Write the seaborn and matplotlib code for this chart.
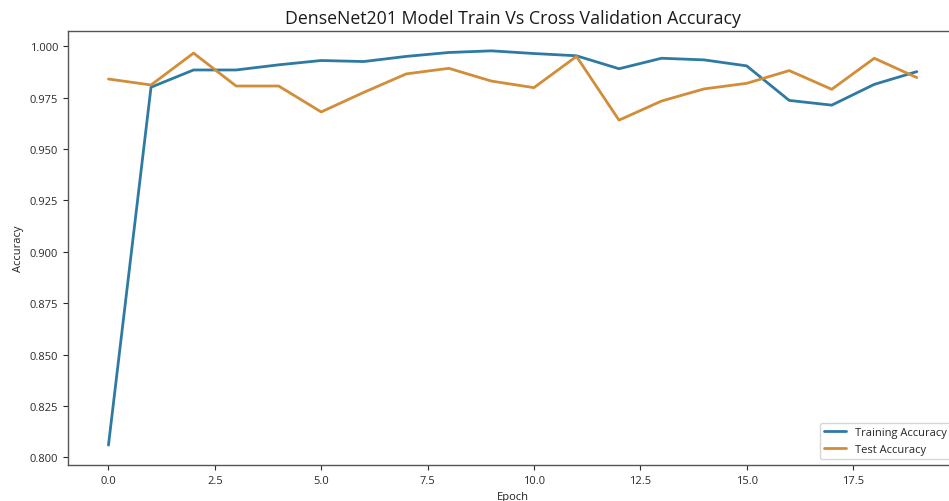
import numpy as np
import pandas as pd
import matplotlib
matplotlib.use('Agg')
import matplotlib.pyplot as plt
import seaborn as sns

# values
epochs = list(range(20))
train_acc = [0.806, 0.980, 0.9884, 0.9884, 0.9909, 0.9930, 0.9925, 0.9950, 0.9969, 0.9977,
             0.9964, 0.9953, 0.9890, 0.9941, 0.9933, 0.9904, 0.9736, 0.9713, 0.9814, 0.9876]
test_acc = [0.9840, 0.9811, 0.9966, 0.9806, 0.9806, 0.9680, 0.9775, 0.9865, 0.9892, 0.9830,
            0.9798, 0.9950, 0.9640, 0.9733, 0.9792, 0.9819, 0.9881, 0.9790, 0.9941, 0.9847]

df = pd.DataFrame({
    'Epoch': epochs * 2,
    'Accuracy': train_acc + test_acc,
    'Series': ['Training Accuracy'] * len(epochs) + ['Test Accuracy'] * len(epochs),
})

sns.set_style('white')
plt.rcParams['font.family'] = ['Open Sans', 'DejaVu Sans']

blue = '#2f7aa3'
orange = '#d18d38'

fig = plt.figure(figsize=(9.49, 5.02), dpi=100, facecolor='white')
# axes runs past the right edge like the cropped original
ax = fig.add_axes([0.0717, 0.072, 0.937, 0.864])

sns.lineplot(data=df, x='Epoch', y='Accuracy', hue='Series',
             palette={'Training Accuracy': blue, 'Test Accuracy': orange},
             linewidth=2, ax=ax)

ax.set_title('DenseNet201 Model Train Vs Cross Validation Accuracy', fontsize=12.8, color='#1a1a1a')
ax.set_xlabel('Epoch', fontsize=8, color='#222222')
ax.set_ylabel('Accuracy', fontsize=8, color='#222222')
ax.set_xticks(np.arange(0, 20, 2.5))
ax.set_yticks(np.arange(0.800, 1.0001, 0.025))
ax.tick_params(axis='both', labelsize=8, colors='#2a2a2a', length=3.5, width=0.8, left=True, bottom=True)
ax.margins(x=0.05, y=0.05)
for s in ax.spines.values():
    s.set_color('#555555')
    s.set_linewidth(1.0)

ax.legend(loc='lower right', fontsize=8, frameon=True, edgecolor='#cccccc', fancybox=True)

fig.savefig('out.png', dpi=100, facecolor='white')
